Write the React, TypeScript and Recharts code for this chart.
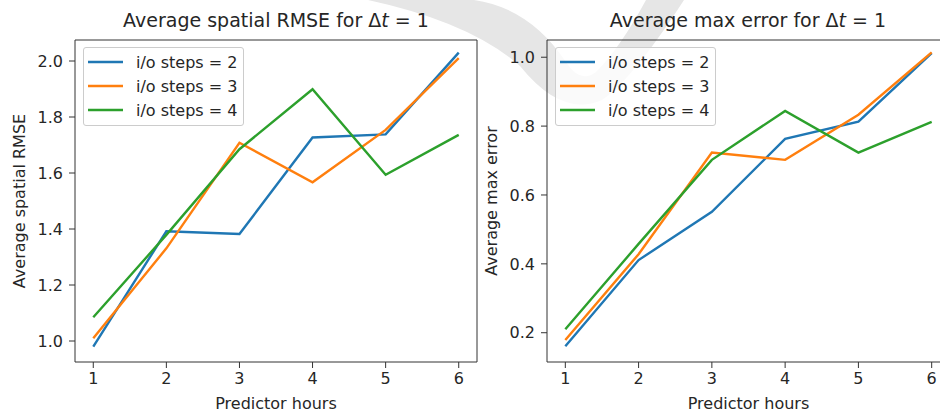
import React from 'react';
import { LineChart, Line, XAxis, YAxis, ReferenceLine, Label } from 'recharts';

const hours = [1, 2, 3, 4, 5, 6];
const hourTicks = [1, 2, 3, 4, 5, 6];

const rmseSteps2 = [0.98, 1.392, 1.382, 1.727, 1.738, 2.03];
const rmseSteps3 = [1.01, 1.331, 1.708, 1.567, 1.754, 2.01];
const rmseSteps4 = [1.085, 1.379, 1.685, 1.899, 1.594, 1.736];
const rmseTicks = [1.0, 1.2, 1.4, 1.6, 1.8, 2.0];

const maxSteps2 = [0.161, 0.411, 0.551, 0.763, 0.813, 1.012];
const maxSteps3 = [0.179, 0.428, 0.723, 0.702, 0.833, 1.014];
const maxSteps4 = [0.21, 0.458, 0.702, 0.844, 0.723, 0.812];
const maxTicks = [0.2, 0.4, 0.6, 0.8, 1.0];

const seriesNames = ['i/o steps = 2', 'i/o steps = 3', 'i/o steps = 4'];
const COLORS = ['#1f77b4', '#ff7f0e', '#2ca02c'];

const FONT = '"DejaVu Sans", sans-serif';
const INK = '#262626';

const buildRows = (a: number[], b: number[], c: number[]) =>
  hours.map((h, i) => ({ hour: h, s2: a[i], s3: b[i], s4: c[i] }));

const rmseData = buildRows(rmseSteps2, rmseSteps3, rmseSteps4);
const maxData = buildRows(maxSteps2, maxSteps3, maxSteps4);

const LegendBox = ({ left }: { left: number }) => (
  <div
    style={{
      position: 'absolute',
      left,
      top: 47,
      width: 161,
      height: 79,
      boxSizing: 'border-box',
      border: '1px solid #cccccc',
      borderRadius: 3,
      background: 'rgba(255,255,255,0.8)',
      paddingTop: 2,
      fontFamily: FONT,
      fontSize: 16,
      color: INK,
    }}
  >
    {seriesNames.map((name, i) => (
      <div key={name} style={{ display: 'flex', alignItems: 'center', height: 24 }}>
        <svg width={40} height={24} style={{ marginLeft: 4 }}>
          <line x1={0} x2={35} y1={12} y2={12} stroke={COLORS[i]} strokeWidth={2.4} />
        </svg>
        <span style={{ marginLeft: 8, whiteSpace: 'nowrap' }}>{name}</span>
      </div>
    ))}
  </div>
);

const Title = ({ center, text }: { center: number; text: string }) => (
  <div
    style={{
      position: 'absolute',
      left: center - 200,
      width: 400,
      top: 9,
      textAlign: 'center',
      fontFamily: FONT,
      fontSize: 19,
      color: INK,
      whiteSpace: 'nowrap',
    }}
  >
    {text} Δ<span style={{ fontStyle: 'italic' }}>t</span> = 1
  </div>
);

interface PanelProps {
  width: number;
  rightPad: number;
  data: any[];
  domain: [number, number];
  ticks: number[];
  yLabel: string;
}

const Panel = ({ width, rightPad, data, domain, ticks, yLabel }: PanelProps) => (
  <LineChart width={width} height={412} data={data} margin={{ top: 40, right: rightPad, bottom: 20, left: 0 }}>
    <XAxis
      dataKey="hour"
      type="number"
      domain={[0.75, 6.25]}
      ticks={hourTicks}
      allowDataOverflow
      height={30}
      tickSize={6}
      tickMargin={5}
      axisLine={{ stroke: '#333' }}
      tickLine={{ stroke: '#333' }}
      tick={{ fill: INK, fontSize: 16, fontFamily: FONT }}
    >
      <Label
        content={({ viewBox }: any) => (
          <text
            x={viewBox.x + viewBox.width / 2}
            y={409}
            textAnchor="middle"
            fill={INK}
            fontSize={16}
            fontFamily={FONT}
          >
            Predictor hours
          </text>
        )}
      />
    </XAxis>
    <YAxis
      type="number"
      domain={domain}
      ticks={ticks}
      allowDataOverflow
      width={75}
      tickSize={6}
      tickMargin={6}
      tickFormatter={(v: number) => v.toFixed(1)}
      axisLine={{ stroke: '#333' }}
      tickLine={{ stroke: '#333' }}
      tick={{ fill: INK, fontSize: 16, fontFamily: FONT }}
    >
      <Label
        content={({ viewBox }: any) => {
          const cy = viewBox.y + viewBox.height / 2;
          return (
            <text
              x={19}
              y={cy}
              transform={`rotate(-90, 19, ${cy})`}
              textAnchor="middle"
              dominantBaseline="central"
              fill={INK}
              fontSize={16}
              fontFamily={FONT}
            >
              {yLabel}
            </text>
          );
        }}
      />
    </YAxis>
    {['s2', 's3', 's4'].map((key, i) => (
      <Line
        key={key}
        dataKey={key}
        name={seriesNames[i]}
        type="linear"
        stroke={COLORS[i]}
        strokeWidth={2.4}
        dot={false}
        isAnimationActive={false}
      />
    ))}
    {/* top and right spines */}
    <ReferenceLine y={domain[1]} stroke="#333" strokeWidth={1} ifOverflow="visible" />
    <ReferenceLine x={6.25} stroke="#333" strokeWidth={1} ifOverflow="visible" />
  </LineChart>
);

export default function App() {
  return (
    <div style={{ position: 'absolute', left: 0, top: 0, width: 940, height: 412, background: '#fff', overflow: 'hidden' }}>
      {/* faint watermark swoosh behind the plots */}
      <svg width={940} height={412} style={{ position: 'absolute', left: 0, top: 0 }}>
        <path
          d="M 368 0 Q 470 22 520 66 Q 562 118 602 100 Q 632 80 684 0 L 646 0 Q 620 48 596 72 Q 580 84 566 62 Q 530 8 474 0 Z"
          fill="#e6e6e6"
        />
      </svg>
      <div style={{ position: 'absolute', left: 0, top: 0, width: 480, height: 412 }}>
        <Panel width={480} rightPad={3} data={rmseData} domain={[0.925, 2.075]} ticks={rmseTicks} yLabel="Average spatial RMSE" />
      </div>
      {/* the right panel runs past the page edge, as in the cropped original */}
      <div style={{ position: 'absolute', left: 472, top: 0, width: 500, height: 412 }}>
        <Panel width={500} rightPad={22} data={maxData} domain={[0.115, 1.05]} ticks={maxTicks} yLabel="Average max error" />
      </div>
      <Title center={276} text="Average spatial RMSE for" />
      <Title center={748} text="Average max error for" />
      <LegendBox left={83} />
      <LegendBox left={555} />
    </div>
  );
}
